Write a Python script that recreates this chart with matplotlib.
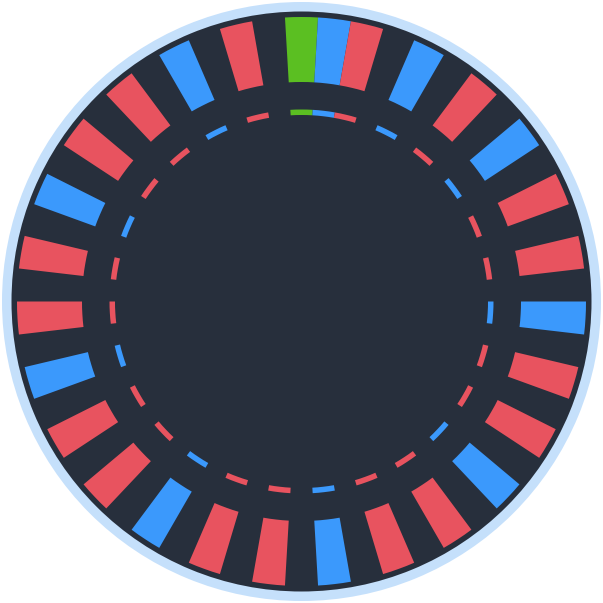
import numpy as np
import matplotlib
matplotlib.use("Agg")
import matplotlib.pyplot as plt

# wheel layout: 54 angular slots, pockets sit on some of them
n_slots = 54
pocket_slots = [0, 1, 2, 4, 6, 8, 10, 12, 14, 16, 18, 20, 22, 24, 26, 28,
                30, 32, 34, 36, 38, 40, 42, 44, 46, 48, 50, 52]
pocket_colors = ['G', 'B', 'R', 'B', 'R', 'B', 'R', 'R', 'B', 'R', 'R', 'B', 'R', 'R',
                 'B', 'R', 'R', 'B', 'R', 'R', 'B', 'R', 'R', 'B', 'R', 'R', 'B', 'R']

palette = {'G': '#5bbf22', 'B': '#3b99fc', 'R': '#e8535f'}
dark = '#272f3c'
rim = '#c5e0fb'

fig = plt.figure(figsize=(6.03, 6.03), dpi=100)
ax = fig.add_axes([0, 0, 1, 1], projection='polar')
ax.set_theta_zero_location('N')
ax.set_theta_direction(-1)
ax.set_ylim(0, 301.5)
ax.set_facecolor('white')
ax.axis('off')

# rim and dark disc
ax.bar(0, 299.5, width=2 * np.pi, bottom=0, color=rim, linewidth=0)
ax.bar(0, 290, width=2 * np.pi, bottom=0, color=dark, linewidth=0)

slot_w = 2 * np.pi / n_slots
theta = np.array(pocket_slots) * slot_w
cols = [palette[c] for c in pocket_colors]

# outer pockets
ax.bar(theta, 65, width=slot_w, bottom=219.5, color=cols, linewidth=0)
# inner dashed track
ax.bar(theta, 5.5, width=slot_w, bottom=186.5, color=cols, linewidth=0)

fig.savefig('out.png', dpi=100, facecolor='white')
